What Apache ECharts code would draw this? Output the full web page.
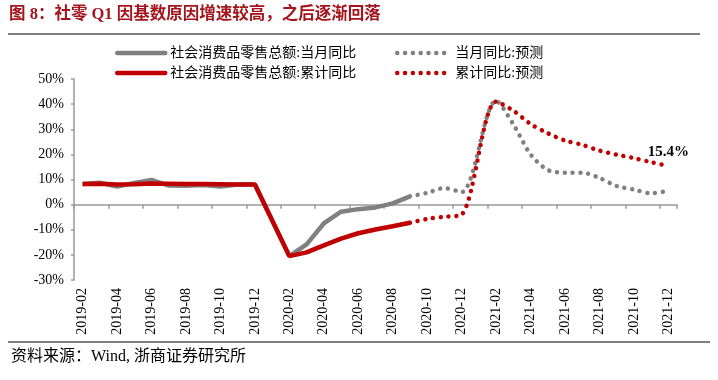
<!DOCTYPE html>
<html>
<head>
<meta charset="utf-8">
<script src="https://cdn.jsdelivr.net/npm/echarts@6/dist/echarts.min.js"></script>
<style>
html,body{margin:0;padding:0;background:#fff;}
#chart{width:718px;height:380px;}
</style>
</head>
<body>
<div id="chart"></div>
<script>
const months = ['2019-02','2019-03','2019-04','2019-05','2019-06','2019-07','2019-08','2019-09','2019-10','2019-11','2019-12',
  '2020-01','2020-02','2020-03','2020-04','2020-05','2020-06','2020-07','2020-08','2020-09','2020-10','2020-11','2020-12',
  '2021-01','2021-02','2021-03','2021-04','2021-05','2021-06','2021-07','2021-08','2021-09','2021-10','2021-11','2021-12'];
const monthlyActual = [8.2, 8.7, 7.2, 8.6, 9.8, 7.6, 7.5, 7.8, 7.2, 8.0, 8.0,
  null, -20.5, -15.8, -7.5, -2.8, -1.8, -1.1, 0.5, 3.3, null, null, null,
  null, null, null, null, null, null, null, null, null, null, null, null];
const cumActual = [8.2, 8.3, 8.0, 8.1, 8.4, 8.3, 8.2, 8.2, 8.1, 8.0, 8.0,
  null, -20.5, -19.0, -16.2, -13.5, -11.4, -9.9, -8.6, -7.2, null, null, null,
  null, null, null, null, null, null, null, null, null, null, null, null];
const monthlyForecast = [null, null, null, null, null, null, null, null, null, null, null,
  null, null, null, null, null, null, null, null, 3.3, 4.7, 6.6, 5.0,
  null, 41.3, 32.0, 20.0, 13.8, 12.7, 12.7, 10.6, 7.4, 6.0, 4.5, 5.6];
const cumForecast = [null, null, null, null, null, null, null, null, null, null, null,
  null, null, null, null, null, null, null, null, -7.2, -5.7, -4.8, -4.0,
  null, 41.0, 37.4, 32.1, 28.4, 25.5, 23.8, 21.5, 19.9, 18.5, 16.9, 15.4];
const seriesNames = ['社会消费品零售总额:当月同比', '社会消费品零售总额:累计同比', '当月同比:预测', '累计同比:预测'];
const yTicks = {min: -30, max: 50, interval: 10};

const GRAY = '#808080', RED = '#c00000';
const FONT = 'Liberation Serif, "Noto Sans CJK SC", serif';
const DOT = [0.01, 7.8];
const NOSYM = {color: 'rgba(0,0,0,0)', borderWidth: 0, opacity: 0};

const lastIdx = cumForecast.length - 1;
const cumForecastData = cumForecast.map((v, i) => i === lastIdx ? {
  value: v, symbol: 'circle', symbolSize: 1,
  itemStyle: {color: 'rgba(0,0,0,0)'},
  label: {show: true, position: 'top', distance: 6, formatter: p => p.value + '%',
    fontFamily: FONT, fontSize: 15, fontWeight: 'bold', color: '#000'}
} : v);

const chart = echarts.init(document.getElementById('chart'), null, {renderer: 'canvas'});
chart.setOption({
  animation: false,
  backgroundColor: '#fff',
  title: {
    text: '图 8：社零 Q1 因基数原因增速较高，之后逐渐回落',
    left: 9, top: 6, padding: 0,
    textStyle: {fontFamily: FONT, fontSize: 16.5, fontWeight: 'bold', color: '#a3141c'}
  },
  grid: {left: 74, right: 41, top: 79, bottom: 100, containLabel: false},
  legend: [{
    data: [
      {name: seriesNames[0], itemStyle: NOSYM, lineStyle: {width: 4.5, color: GRAY, cap: 'round'}},
      {name: seriesNames[1], itemStyle: NOSYM, lineStyle: {width: 4.5, color: RED, cap: 'round'}}
    ],
    left: 115, top: 46, orient: 'vertical', itemWidth: 48, itemHeight: 14, itemGap: 6, padding: 0,
    selectedMode: false,
    textStyle: {fontFamily: FONT, fontSize: 14, color: '#000'}
  }, {
    data: [
      {name: seriesNames[2], itemStyle: NOSYM, lineStyle: {width: 4.5, color: GRAY, type: DOT, cap: 'round'}},
      {name: seriesNames[3], itemStyle: NOSYM, lineStyle: {width: 4.5, color: RED, type: DOT, cap: 'round'}}
    ],
    left: 395, top: 46, orient: 'vertical', itemWidth: 48, itemHeight: 14, itemGap: 6, padding: 0,
    selectedMode: false,
    textStyle: {fontFamily: FONT, fontSize: 14, color: '#000', padding: [0, 0, 0, 5]}
  }],
  xAxis: [{
    type: 'category', data: months, position: 'bottom', boundaryGap: true,
    axisLine: {show: true, onZero: true, lineStyle: {color: '#999', width: 1.5}},
    axisTick: {show: true, interval: 1, length: 4, lineStyle: {color: '#999', width: 1.5}},
    axisLabel: {show: false}
  }, {
    type: 'category', data: months, position: 'bottom', boundaryGap: true,
    axisLine: {show: false, onZero: false},
    axisTick: {show: false},
    axisLabel: {show: true, interval: 1, rotate: 90, margin: 8, fontFamily: FONT, fontSize: 14, color: '#000'}
  }],
  yAxis: {
    type: 'value', min: yTicks.min, max: yTicks.max, interval: yTicks.interval,
    axisLine: {show: true, onZero: false, lineStyle: {color: '#999', width: 1.5}},
    axisTick: {show: true, length: 3, lineStyle: {color: '#999', width: 1.5}},
    splitLine: {show: false},
    axisLabel: {formatter: '{value}%', margin: 10, fontFamily: FONT, fontSize: 14, color: '#000'}
  },
  series: [{
    name: seriesNames[0], type: 'line', data: monthlyActual, connectNulls: true,
    symbol: 'none', lineStyle: {color: GRAY, width: 4.5}, itemStyle: {color: GRAY}, z: 2
  }, {
    name: seriesNames[1], type: 'line', data: cumActual, connectNulls: true,
    symbol: 'none', lineStyle: {color: RED, width: 4.5}, itemStyle: {color: RED}, z: 3
  }, {
    name: seriesNames[2], type: 'line', data: monthlyForecast, connectNulls: true, smooth: 0.3,
    symbol: 'none', lineStyle: {color: GRAY, width: 4.5, type: DOT, cap: 'round'}, itemStyle: {color: GRAY}, z: 2
  }, {
    name: seriesNames[3], type: 'line', data: cumForecastData, connectNulls: true, smooth: 0.3,
    symbol: 'none', lineStyle: {color: RED, width: 4.5, type: DOT, cap: 'round'}, itemStyle: {color: RED}, z: 3
  }],
  graphic: [
    {type: 'line', shape: {x1: 8, y1: 34, x2: 700, y2: 34}, style: {stroke: '#555', lineWidth: 1.5}},
    {type: 'line', shape: {x1: 8, y1: 342, x2: 710, y2: 342}, style: {stroke: '#555', lineWidth: 1.5}},
    {type: 'text', left: 11, top: 349, style: {text: '资料来源：Wind, 浙商证券研究所', fontFamily: FONT, fontSize: 16, fill: '#000'}}
  ]
});
</script>
</body>
</html>
